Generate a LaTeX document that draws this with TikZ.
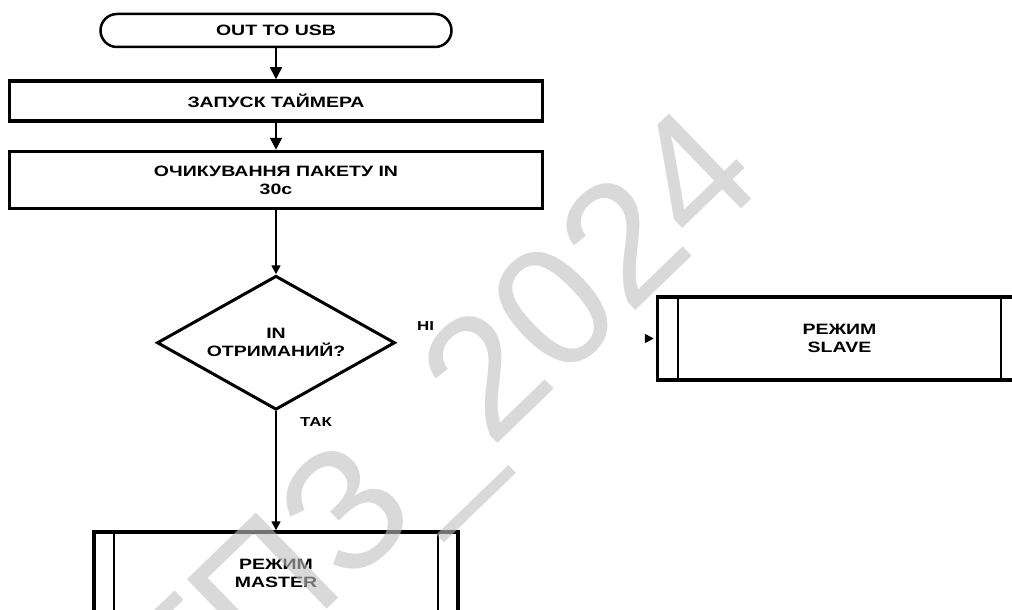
\documentclass[tikz,border=0pt]{standalone}
\usepackage{fontspec}
\setmainfont{Liberation Sans}[BoldFeatures={FakeStretch=1.3}]
\newfontfamily\wmfont{Liberation Sans}
\usepackage{tikz}
\usetikzlibrary{arrows.meta,positioning,shapes.geometric}

\begin{document}
\begin{tikzpicture}[
  x=1pt,y=1pt,
  txt/.style={font=\fontsize{15}{18}\selectfont\bfseries,align=center},
  term/.style={txt,draw,line width=2.5pt,rounded corners=16.5pt,
               minimum width=351pt,minimum height=33pt,inner sep=0pt},
  box/.style={txt,draw,line width=3.5pt,minimum width=533pt,inner sep=0pt},
  dec/.style={txt,draw,diamond,line width=3pt,aspect=1.78,
              minimum width=238pt,minimum height=134pt,inner sep=0pt},
  proc/.style={txt,draw,line width=3.5pt,minimum width=364pt,
               minimum height=83pt,inner sep=0pt},
  lbl/.style={font=\fontsize{13}{15}\selectfont\bfseries},
  arr/.style={-{Triangle[length=12pt,width=12pt]},line width=1.6pt},
  arrs/.style={-{Triangle[length=9pt,width=9pt]},line width=1.6pt}
]
  \useasboundingbox (0,0) rectangle (1012,-610);

  \node[term](start) at (276,-30.5){OUT TO USB};
  \node[box,minimum height=40pt,below=31pt of start](timer){ЗАПУСК ТАЙМЕРА};
  \node[box,minimum height=57pt,below=27pt of timer](wait){ОЧИКУВАННЯ ПАКЕТУ IN\\30с};
  \node[dec,below=64pt of wait](check){IN\\ОТРИМАНИЙ?};
  \node[proc,below=119pt of check](master){РЕЖИМ\\MASTER};
  \node[proc] (slave) at (839.5,-338.5){РЕЖИМ\\SLAVE};

  % inner lines of the process boxes
  \foreach \p in {master,slave}{
    \draw[line width=2pt]([xshift=22pt]\p.north west)--([xshift=22pt]\p.south west);
    \draw[line width=2pt]([xshift=-22pt]\p.north east)--([xshift=-22pt]\p.south east);
  }

  \node[lbl](no) at ([shift={(29pt,17pt)}]check.east){НІ};
  \node[lbl](yes) at ([shift={(40pt,-11pt)}]check.south){ТАК};

  \draw[arr](start)--(timer);
  \draw[arr](timer)--(wait);
  \draw[arrs](wait)--(check);
  \draw[arrs](check)--(master);
  \coordinate (slavein) at ([xshift=-11pt]slave.west);
  \draw[arrs](slavein)--([xshift=-2pt]slave.west);

  \node[text=black!25,opacity=0.6,rotate=44,anchor=base west,inner sep=0pt,
        font=\wmfont\fontsize{172}{172}\selectfont](wm) at (192,-739){ГПЗ\_2024};
\end{tikzpicture}
\end{document}
